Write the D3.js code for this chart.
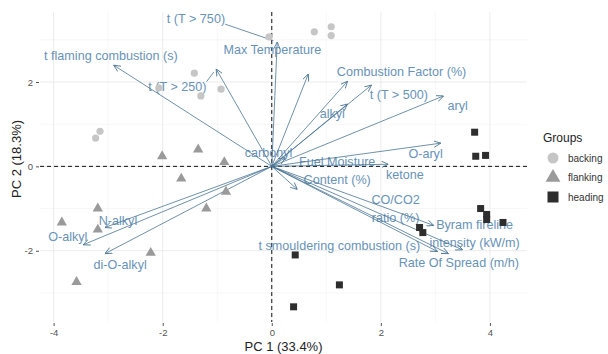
<!DOCTYPE html>
<html>
<head>
<meta charset="utf-8">
<script src="https://cdn.jsdelivr.net/npm/d3@7"></script>
<style>
    body { margin: 0; background: #fff; }
    svg { display: block; font-family: 'Liberation Sans', Arial, sans-serif; }
</style>
</head>
<body>
<svg width="608" height="354"></svg>
<script>
// PCA scores, one pair of arrays per group
const backingX = [-3.15, -3.23, -2.07, -1.42, -1.30, -0.93, -0.05, 0.78, 1.09, 1.09]
const backingY = [0.83, 0.67, 1.86, 2.21, 1.67, 1.83, 3.07, 3.19, 3.31, 3.10]
const flankingX = [-2.01, -1.35, -0.87, -1.66, -0.84, -3.19, -1.20, -3.85, -3.19, -2.22, -3.58]
const flankingY = [0.24, 0.40, 0.10, -0.29, -0.60, -1.00, -1.00, -1.33, -1.50, -2.05, -2.74]
const headingX = [3.72, 3.74, 3.92, 3.83, 3.94, 3.94, 4.24, 2.71, 2.77, 0.43, 1.24, 0.40]
const headingY = [0.81, 0.24, 0.26, -1.00, -1.14, -1.26, -1.33, -1.45, -1.57, -2.10, -2.81, -3.33]

// loadings (arrow tips) and where the repelled labels ended up
const varNames = [
    't flaming combustion (s)', 't (T > 250)', 't (T > 750)', 'Max Temperature',
    'Combustion Factor (%)', 't (T > 500)', 'alkyl', 'aryl', 'O-aryl', 'carbonyl',
    'Fuel Moisture\nContent (%)', 'ketone', 'CO/CO2\nratio (%)', 'Byram fireline\nintensity (kW/m)',
    't smouldering combustion (s)', 'Rate Of Spread (m/h)', 'N-alkyl', 'O-alkyl', 'di-O-alkyl',
]
const loadX = [-2.90, -1.02, 0.10, 0.67, 1.39, 1.83, 1.39, 3.15, 3.10, 0.25, 0.47, 2.14, 2.97, 3.50, 3.04, 3.24, -3.06, -3.46, -3.06]
const loadY = [2.40, 2.31, 2.95, 2.19, 2.02, 1.93, 1.48, 1.67, 0.55, 0.21, -0.55, 0.05, -1.40, -1.98, -2.02, -2.07, -1.45, -1.86, -2.07]
const labelX = [-2.95, -1.73, -1.39, 0.01, 2.38, 2.33, 1.11, 3.41, 2.82, -0.06, 1.20, 2.44, 2.27, 3.72, 1.24, 3.43, -2.82, -3.74, -2.78]
const labelY = [2.62, 1.90, 3.50, 2.76, 2.24, 1.71, 1.24, 1.45, 0.31, 0.33, -0.10, -0.19, -1.00, -1.60, -1.88, -2.29, -1.29, -1.67, -2.33]
const withSegment = ['t (T > 250)', 't (T > 750)']

const xTicks = [-4, -2, 0, 2, 4]
const yTicks = [-2, 0, 2]
const groups = ['backing', 'flanking', 'heading']
const groupColors = ['#c6c6c6', '#9a9a9a', '#2e2e2e']

const svg = d3.select('svg')
const panel = { left: 40, right: 527, top: 12, bottom: 322 }

const x = d3.scaleLinear().domain([-4.25, 4.68]).range([panel.left, panel.right])
const y = d3.scaleLinear().domain([-3.69, 3.66]).range([panel.bottom, panel.top])

const grid = svg.append('g').attr('class', 'grid')
const minorX = [-3, -1, 1, 3], minorY = [-3, -1, 1, 3]
grid.selectAll('line.minor-x').data(minorX).join('line')
    .attr('x1', (d) => x(d)).attr('x2', (d) => x(d)).attr('y1', panel.top).attr('y2', panel.bottom)
    .attr('stroke', '#f2f2f2').attr('stroke-width', 0.6)
grid.selectAll('line.minor-y').data(minorY).join('line')
    .attr('y1', (d) => y(d)).attr('y2', (d) => y(d)).attr('x1', panel.left).attr('x2', panel.right)
    .attr('stroke', '#f2f2f2').attr('stroke-width', 0.6)
grid.selectAll('line.major-x').data(xTicks).join('line')
    .attr('x1', (d) => x(d)).attr('x2', (d) => x(d)).attr('y1', panel.top).attr('y2', panel.bottom)
    .attr('stroke', '#ebebeb').attr('stroke-width', 1)
grid.selectAll('line.major-y').data(yTicks).join('line')
    .attr('y1', (d) => y(d)).attr('y2', (d) => y(d)).attr('x1', panel.left).attr('x2', panel.right)
    .attr('stroke', '#ebebeb').attr('stroke-width', 1)

// axes
const xAxis = svg.append('g')
    .attr('transform', `translate(0, ${panel.bottom + 1})`)
    .call(d3.axisBottom(x).tickValues(xTicks).tickSize(3).tickPadding(3).tickFormat(d3.format('d')))
const yAxis = svg.append('g')
    .attr('transform', `translate(${panel.left - 1}, 0)`)
    .call(d3.axisLeft(y).tickValues(yTicks).tickSize(3).tickPadding(3).tickFormat(d3.format('d')))
;[xAxis, yAxis].forEach((a) => {
    a.select('.domain').remove()
    a.selectAll('.tick line').attr('stroke', '#555')
    a.selectAll('.tick text').attr('fill', '#555').style('font-size', '9.5px')
        .text((d) => String(d))
})

svg.append('text')
    .attr('x', (panel.left + panel.right) / 2).attr('y', 351)
    .attr('text-anchor', 'middle').attr('fill', '#222').style('font-size', '13px')
    .text('PC 1 (33.4%)')
svg.append('text')
    .attr('transform', `translate(21, ${(panel.top + panel.bottom) / 2 - 8}) rotate(-90)`)
    .attr('text-anchor', 'middle').attr('fill', '#222').style('font-size', '13px')
    .text('PC 2 (18.3%)')

// zero lines
svg.append('line')
    .attr('x1', panel.left).attr('x2', panel.right).attr('y1', y(0)).attr('y2', y(0))
    .attr('stroke', '#111').attr('stroke-width', 1).attr('stroke-dasharray', '4,3')
svg.append('line')
    .attr('x1', x(0)).attr('x2', x(0)).attr('y1', panel.top).attr('y2', panel.bottom)
    .attr('stroke', '#111').attr('stroke-width', 1).attr('stroke-dasharray', '4,3')

// variable labels
const loadings = varNames.map((name, i) => ({
    name, x: loadX[i], y: loadY[i], lx: labelX[i], ly: labelY[i],
}))
const labelColor = '#6892b8'
const arrowColor = '#4a7594'

const labels = svg.append('g').attr('class', 'labels')
labels.selectAll('text').data(loadings).join('text')
    .attr('x', (d) => x(d.lx))
    .attr('y', (d) => y(d.ly))
    .attr('text-anchor', 'middle')
    .attr('fill', labelColor)
    .style('font-size', '12.6px')
    .each(function (d) {
        const lines = d.name.split('\n')
        const sel = d3.select(this)
        lines.forEach((line, k) => {
            sel.append('tspan')
                .attr('x', x(d.lx))
                .attr('dy', k === 0 ? `${0.35 - (lines.length - 1) * 0.72}em` : '1.44em')
                .text(line)
        })
    })

// repel segments from label box to arrow tip
labels.selectAll('text').each(function (d) {
    if (withSegment.indexOf(d.name) === -1) return
    const b = this.getBBox()
    const tx = x(d.x), ty = y(d.y)
    const sx = Math.max(b.x, Math.min(tx, b.x + b.width))
    const sy = Math.max(b.y + 2, Math.min(ty, b.y + b.height - 2))
    const len = Math.hypot(tx - sx, ty - sy)
    const k = (len - 4) / len
    labels.append('line')
        .attr('x1', sx).attr('y1', sy)
        .attr('x2', sx + (tx - sx) * k).attr('y2', sy + (ty - sy) * k)
        .attr('stroke', arrowColor).attr('stroke-width', 0.8)
})

// arrows
svg.append('defs').append('marker')
    .attr('id', 'head')
    .attr('viewBox', '0 0 10 10')
    .attr('refX', 10).attr('refY', 5)
    .attr('markerUnits', 'userSpaceOnUse')
    .attr('markerWidth', 7).attr('markerHeight', 7)
    .attr('orient', 'auto')
    .append('path')
    .attr('d', 'M0,0.5 L10,5 L0,9.5')
    .attr('fill', 'none').attr('stroke', arrowColor).attr('stroke-width', 1.2)

svg.append('g').attr('class', 'arrows')
    .selectAll('line').data(loadings).join('line')
    .attr('x1', x(0)).attr('y1', y(0))
    .attr('x2', (d) => x(d.x)).attr('y2', (d) => y(d.y))
    .attr('stroke', arrowColor).attr('stroke-width', 0.8)
    .attr('marker-end', 'url(#head)')

// points
const pts = svg.append('g').attr('class', 'points')
pts.selectAll('circle').data(backingX.map((v, i) => [v, backingY[i]])).join('circle')
    .attr('cx', (d) => x(d[0])).attr('cy', (d) => y(d[1])).attr('r', 3.6)
    .attr('fill', groupColors[0])
const tri = d3.symbol().type(d3.symbolTriangle).size(46)
pts.selectAll('path.tri').data(flankingX.map((v, i) => [v, flankingY[i]])).join('path')
    .attr('class', 'tri')
    .attr('d', tri)
    .attr('transform', (d) => `translate(${x(d[0])}, ${y(d[1])})`)
    .attr('fill', groupColors[1])
pts.selectAll('rect').data(headingX.map((v, i) => [v, headingY[i]])).join('rect')
    .attr('x', (d) => x(d[0]) - 3.5).attr('y', (d) => y(d[1]) - 3.5)
    .attr('width', 7).attr('height', 7)
    .attr('fill', groupColors[2])

// legend
const legend = svg.append('g').attr('transform', 'translate(543, 0)')
legend.append('text').attr('x', 0).attr('y', 142)
    .attr('fill', '#222').style('font-size', '12px').text('Groups')
const item = legend.selectAll('g.item').data(groups).join('g')
    .attr('class', 'item')
    .attr('transform', (d, i) => `translate(10, ${158 + i * 19.5})`)
item.each(function (d, i) {
    const g = d3.select(this)
    if (i === 0) g.append('circle').attr('r', 5.5).attr('fill', groupColors[0])
    if (i === 1) g.append('path').attr('d', d3.symbol().type(d3.symbolTriangle).size(95)).attr('fill', groupColors[1])
    if (i === 2) g.append('rect').attr('x', -5.5).attr('y', -5.5).attr('width', 11).attr('height', 11).attr('fill', groupColors[2])
})
item.append('text').attr('x', 15).attr('dy', '0.35em')
    .attr('fill', '#333').style('font-size', '10px').text((d) => d)
</script>
</body>
</html>
